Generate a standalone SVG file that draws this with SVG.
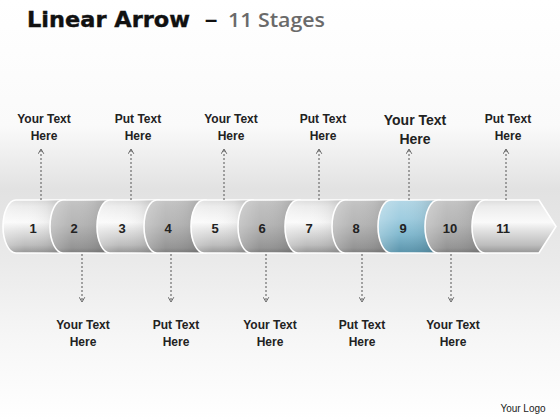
<svg xmlns="http://www.w3.org/2000/svg" xmlns:xlink="http://www.w3.org/1999/xlink" width="560" height="420" viewBox="0 0 560 420">
<defs>
<linearGradient id="bg" x1="0" y1="0" x2="0" y2="420" gradientUnits="userSpaceOnUse">
<stop offset="0" stop-color="#ffffff"/>
<stop offset="0.3" stop-color="#fafafa"/>
<stop offset="0.45" stop-color="#e2e2e2"/>
<stop offset="0.62" stop-color="#eaeaea"/>
<stop offset="0.8" stop-color="#f6f6f6"/>
<stop offset="1" stop-color="#ffffff"/>
</linearGradient>
<linearGradient id="gL" x1="0" y1="200" x2="0" y2="253" gradientUnits="userSpaceOnUse">
<stop offset="0" stop-color="#dcdcdc"/>
<stop offset="0.12" stop-color="#ececec"/>
<stop offset="0.42" stop-color="#fafafa"/>
<stop offset="0.6" stop-color="#dedede"/>
<stop offset="0.85" stop-color="#bdbdbd"/>
<stop offset="1" stop-color="#959595"/>
</linearGradient>
<linearGradient id="gD" x1="0" y1="200" x2="0" y2="253" gradientUnits="userSpaceOnUse">
<stop offset="0" stop-color="#c4c4c4"/>
<stop offset="0.2" stop-color="#bdbdbd"/>
<stop offset="0.45" stop-color="#b6b6b6"/>
<stop offset="0.7" stop-color="#a4a4a4"/>
<stop offset="0.9" stop-color="#959595"/>
<stop offset="1" stop-color="#7c7c7c"/>
</linearGradient>
<linearGradient id="gB" x1="0" y1="200" x2="0" y2="253" gradientUnits="userSpaceOnUse">
<stop offset="0" stop-color="#b3d7e6"/>
<stop offset="0.35" stop-color="#a0cde0"/>
<stop offset="0.65" stop-color="#82b9cf"/>
<stop offset="1" stop-color="#5a93aa"/>
</linearGradient>
<linearGradient id="hs" x1="0" y1="0" x2="1" y2="0">
<stop offset="0" stop-color="#fff" stop-opacity="0.25"/>
<stop offset="0.35" stop-color="#fff" stop-opacity="0"/>
<stop offset="0.7" stop-color="#000" stop-opacity="0.04"/>
<stop offset="1" stop-color="#000" stop-opacity="0.16"/>
</linearGradient>
<linearGradient id="rf" x1="0" y1="253" x2="0" y2="280" gradientUnits="userSpaceOnUse">
<stop offset="0" stop-color="#fff" stop-opacity="0.75"/>
<stop offset="1" stop-color="#fff" stop-opacity="0"/>
</linearGradient>
<mask id="rm" maskUnits="userSpaceOnUse" x="0" y="250" width="560" height="40">
<rect x="0" y="254" width="560" height="34" fill="url(#rf)"/>
</mask>
<marker id="ah" viewBox="0 0 8 8" refX="7" refY="4" markerWidth="7" markerHeight="7" markerUnits="userSpaceOnUse" orient="auto">
<path d="M1.5,0.8 L7,4 L1.5,7.2" fill="none" stroke="#555" stroke-width="1"/>
</marker>
<style>
.seg{stroke:#ffffff;stroke-width:1.6}
.sh{fill:url(#hs);stroke:none}
.num{font-family:"Liberation Sans",Arial,sans-serif;font-weight:bold;font-size:13px;fill:#222;text-anchor:middle}
.lbl{font-family:"Liberation Sans",Arial,sans-serif;font-weight:bold;font-size:12px;fill:#222;text-anchor:middle}
.big{font-size:14px}
.con{stroke:#555;stroke-width:1;stroke-dasharray:2,2;fill:none;marker-end:url(#ah)}
</style>
</defs>
<rect x="0" y="0" width="560" height="420" fill="url(#bg)"/>
<text x="27" y="27" font-family="'DejaVu Sans',Verdana,sans-serif" font-weight="bold" font-size="22" fill="#111" stroke="#111" stroke-width="0.4" textLength="163" lengthAdjust="spacingAndGlyphs">Linear Arrow</text>
<text x="205" y="27" font-family="'Liberation Sans',Arial,sans-serif" font-weight="bold" font-size="22" fill="#111">–</text>
<text x="228" y="27" font-family="'Open Sans','Liberation Sans',sans-serif" font-weight="600" font-size="20" fill="#6a6a6a" textLength="97" lengthAdjust="spacingAndGlyphs">11 Stages</text>

<g id="band">
<g id="s1"><path class="seg" fill="url(#gL)" d="M16,200 H65 V253 H16 A13 26.5 0 0 1 16,200 Z"/><path class="sh" d="M16,200 H65 V253 H16 A13 26.5 0 0 1 16,200 Z"/></g>
<g id="s2"><path class="seg" fill="url(#gD)" d="M63,200 H112 V253 H63 A13 26.5 0 0 1 63,200 Z"/><path class="sh" d="M63,200 H112 V253 H63 A13 26.5 0 0 1 63,200 Z"/></g>
<g id="s3"><path class="seg" fill="url(#gL)" d="M110,200 H159 V253 H110 A13 26.5 0 0 1 110,200 Z"/><path class="sh" d="M110,200 H159 V253 H110 A13 26.5 0 0 1 110,200 Z"/></g>
<g id="s4"><path class="seg" fill="url(#gD)" d="M157,200 H206 V253 H157 A13 26.5 0 0 1 157,200 Z"/><path class="sh" d="M157,200 H206 V253 H157 A13 26.5 0 0 1 157,200 Z"/></g>
<g id="s5"><path class="seg" fill="url(#gL)" d="M204,200 H253 V253 H204 A13 26.5 0 0 1 204,200 Z"/><path class="sh" d="M204,200 H253 V253 H204 A13 26.5 0 0 1 204,200 Z"/></g>
<g id="s6"><path class="seg" fill="url(#gD)" d="M251,200 H300 V253 H251 A13 26.5 0 0 1 251,200 Z"/><path class="sh" d="M251,200 H300 V253 H251 A13 26.5 0 0 1 251,200 Z"/></g>
<g id="s7"><path class="seg" fill="url(#gL)" d="M298,200 H347 V253 H298 A13 26.5 0 0 1 298,200 Z"/><path class="sh" d="M298,200 H347 V253 H298 A13 26.5 0 0 1 298,200 Z"/></g>
<g id="s8"><path class="seg" fill="url(#gD)" d="M345,200 H393 V253 H345 A13 26.5 0 0 1 345,200 Z"/><path class="sh" d="M345,200 H393 V253 H345 A13 26.5 0 0 1 345,200 Z"/></g>
<g id="s9"><path class="seg" fill="url(#gB)" d="M391,200 H440 V253 H391 A13 26.5 0 0 1 391,200 Z"/><path class="sh" d="M391,200 H440 V253 H391 A13 26.5 0 0 1 391,200 Z"/></g>
<g id="s10"><path class="seg" fill="url(#gD)" d="M438,200 H487 V253 H438 A13 26.5 0 0 1 438,200 Z"/><path class="sh" d="M438,200 H487 V253 H438 A13 26.5 0 0 1 438,200 Z"/></g>
<g id="s11"><path class="seg" fill="url(#gL)" d="M485,200 H539 L556,226.5 L539,253 H485 A13 26.5 0 0 1 485,200 Z"/></g>
</g>
<use xlink:href="#band" href="#band" transform="translate(0,507) scale(1,-1)" mask="url(#rm)"/>

<g id="numbers">
<text class="num" x="33" y="233">1</text>
<text class="num" x="74" y="233">2</text>
<text class="num" x="122" y="233">3</text>
<text class="num" x="168" y="233">4</text>
<text class="num" x="215" y="233">5</text>
<text class="num" x="262" y="233">6</text>
<text class="num" x="309" y="233">7</text>
<text class="num" x="356" y="233">8</text>
<text class="num" x="403" y="233">9</text>
<text class="num" x="450" y="233">10</text>
<text class="num" x="503" y="233">11</text>
</g>

<g id="connectors">
<line class="con" x1="41" y1="200" x2="41" y2="149"/>
<line class="con" x1="131" y1="200" x2="131" y2="149"/>
<line class="con" x1="224" y1="200" x2="224" y2="149"/>
<line class="con" x1="319" y1="200" x2="319" y2="149"/>
<line class="con" x1="409" y1="200" x2="409" y2="149"/>
<line class="con" x1="506" y1="200" x2="506" y2="149"/>
<line class="con" x1="82" y1="254" x2="82" y2="302"/>
<line class="con" x1="171" y1="254" x2="171" y2="302"/>
<line class="con" x1="266" y1="254" x2="266" y2="302"/>
<line class="con" x1="362" y1="254" x2="362" y2="302"/>
<line class="con" x1="451" y1="254" x2="451" y2="302"/>
</g>

<g id="t1"><text class="lbl" x="44" y="123">Your Text</text><text class="lbl" x="44" y="140">Here</text></g>
<g id="t2"><text class="lbl" x="138" y="123">Put Text</text><text class="lbl" x="138" y="140">Here</text></g>
<g id="t3"><text class="lbl" x="231" y="123">Your Text</text><text class="lbl" x="231" y="140">Here</text></g>
<g id="t4"><text class="lbl" x="323" y="123">Put Text</text><text class="lbl" x="323" y="140">Here</text></g>
<g id="t5"><text class="lbl big" x="415" y="125">Your Text</text><text class="lbl big" x="415" y="144">Here</text></g>
<g id="t6"><text class="lbl" x="508" y="123">Put Text</text><text class="lbl" x="508" y="140">Here</text></g>
<g id="b1"><text class="lbl" x="83" y="329">Your Text</text><text class="lbl" x="83" y="346">Here</text></g>
<g id="b2"><text class="lbl" x="176" y="329">Put Text</text><text class="lbl" x="176" y="346">Here</text></g>
<g id="b3"><text class="lbl" x="270" y="329">Your Text</text><text class="lbl" x="270" y="346">Here</text></g>
<g id="b4"><text class="lbl" x="362" y="329">Put Text</text><text class="lbl" x="362" y="346">Here</text></g>
<g id="b5"><text class="lbl" x="453" y="329">Your Text</text><text class="lbl" x="453" y="346">Here</text></g>
<text x="523" y="412" font-family="'Liberation Sans',Arial,sans-serif" font-size="10" fill="#222" text-anchor="middle">Your Logo</text>
</svg>
